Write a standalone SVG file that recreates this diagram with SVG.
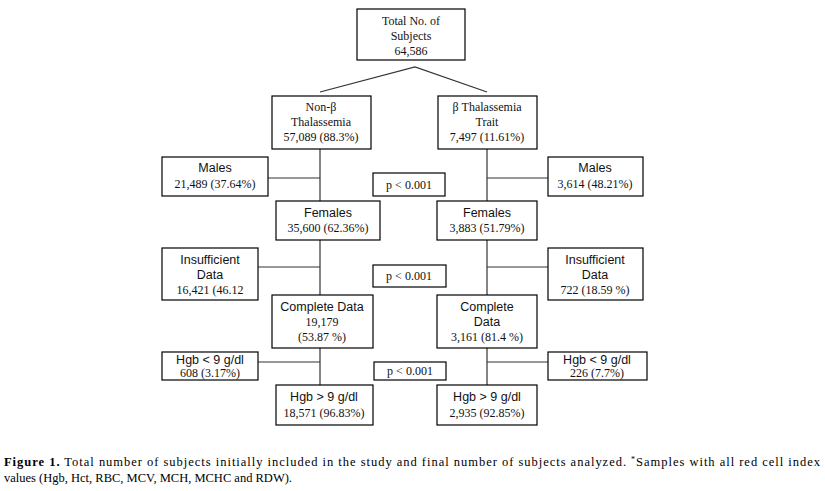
<svg xmlns="http://www.w3.org/2000/svg" width="825" height="491" viewBox="0 0 825 491">
<style>
rect{fill:#fff;stroke:#000;stroke-width:1.2}
.c line,.c polyline{stroke:#333;stroke-width:1.2;fill:none}
.s{font-family:'Liberation Serif','Times New Roman',Times,serif;font-size:12px;text-anchor:middle;fill:#111}
.a{font-family:'Liberation Sans',Arial,sans-serif;font-size:12.5px;text-anchor:middle;fill:#111}
.cap{font-family:'Liberation Serif','Times New Roman',Times,serif;font-size:12.5px;fill:#000}
</style>
<rect x="0" y="0" width="825" height="491" style="stroke:none"/>
<g class="c">
<polyline points="320,92 415,67 487,92"/>
<line x1="320" y1="149" x2="320" y2="201"/>
<line x1="258" y1="178" x2="320" y2="178"/>
<line x1="487" y1="149" x2="487" y2="201"/>
<line x1="487" y1="178" x2="548" y2="178"/>
<line x1="320" y1="240" x2="320" y2="295"/>
<line x1="258" y1="267" x2="320" y2="267"/>
<line x1="487" y1="240" x2="487" y2="295"/>
<line x1="487" y1="267" x2="548" y2="267"/>
<line x1="320" y1="348" x2="320" y2="385"/>
<line x1="258" y1="362" x2="320" y2="362"/>
<line x1="487" y1="348" x2="487" y2="385"/>
<line x1="487" y1="362" x2="548" y2="362"/>
</g>
<g id="total"><rect x="357" y="9" width="108" height="51"/><text class="s" x="411" y="25">Total No. of</text><text class="s" x="411" y="40">Subjects</text><text class="s" x="411" y="55">64,586</text></g>
<g id="nonbeta"><rect x="272" y="96" width="99" height="53"/><text class="s" x="321" y="111">Non-β</text><text class="s" x="321" y="126">Thalassemia</text><text class="s" x="321" y="141">57,089 (88.3%)</text></g>
<g id="beta"><rect x="438" y="96" width="99" height="53"/><text class="s" x="487" y="111">β Thalassemia</text><text class="s" x="487" y="126">Trait</text><text class="s" x="487" y="141">7,497 (11.61%)</text></g>
<g id="malesL"><rect x="162" y="157" width="106" height="39"/><text class="a" x="215" y="172">Males</text><text class="s" x="215" y="188">21,489 (37.64%)</text></g>
<g id="p1"><rect x="373" y="173" width="72" height="23"/><text class="s" x="409" y="189">p &lt; 0.001</text></g>
<g id="malesR"><rect x="548" y="157" width="95" height="39"/><text class="a" x="595" y="172">Males</text><text class="s" x="595" y="188">3,614 (48.21%)</text></g>
<g id="femalesL"><rect x="276" y="201" width="104" height="39"/><text class="a" x="328" y="217">Females</text><text class="s" x="328" y="232">35,600 (62.36%)</text></g>
<g id="femalesR"><rect x="437" y="201" width="100" height="39"/><text class="a" x="487" y="217">Females</text><text class="s" x="487" y="232">3,883 (51.79%)</text></g>
<g id="insufL"><rect x="162" y="248" width="96" height="52"/><text class="a" x="210" y="264">Insufficient</text><text class="a" x="210" y="279">Data</text><text class="s" x="210" y="294">16,421 (46.12</text></g>
<g id="p2"><rect x="373" y="265" width="73" height="22"/><text class="s" x="409" y="280">p &lt; 0.001</text></g>
<g id="insufR"><rect x="548" y="248" width="95" height="52"/><text class="a" x="595" y="264">Insufficient</text><text class="a" x="595" y="279">Data</text><text class="s" x="595" y="294">722 (18.59 %)</text></g>
<g id="completeL"><rect x="272" y="295" width="101" height="53"/><text class="a" x="322" y="311">Complete Data</text><text class="s" x="322" y="326">19,179</text><text class="s" x="322" y="341">(53.87 %)</text></g>
<g id="completeR"><rect x="437" y="295" width="100" height="53"/><text class="a" x="487" y="311">Complete</text><text class="a" x="487" y="326">Data</text><text class="s" x="487" y="341">3,161 (81.4 %)</text></g>
<g id="lowL"><rect x="162" y="352" width="96" height="28"/><text class="a" x="210" y="364">Hgb &lt; 9 g/dl</text><text class="s" x="210" y="377">608 (3.17%)</text></g>
<g id="p3"><rect x="374" y="362" width="72" height="18"/><text class="s" x="410" y="375">p &lt; 0.001</text></g>
<g id="lowR"><rect x="548" y="352" width="99" height="28"/><text class="a" x="597" y="364">Hgb &lt; 9 g/dl</text><text class="s" x="597" y="377">226 (7.7%)</text></g>
<g id="highL"><rect x="276" y="385" width="97" height="40"/><text class="a" x="324" y="401">Hgb &gt; 9 g/dl</text><text class="s" x="324" y="417">18,571 (96.83%)</text></g>
<g id="highR"><rect x="437" y="385" width="100" height="40"/><text class="a" x="487" y="401">Hgb &gt; 9 g/dl</text><text class="s" x="487" y="417">2,935 (92.85%)</text></g>
<text class="cap" x="4" y="466" textLength="816" lengthAdjust="spacing"><tspan font-weight="bold">Figure 1.</tspan> Total number of subjects initially included in the study and final number of subjects analyzed. <tspan font-size="8" dy="-4">*</tspan><tspan dy="4">Samples with all red cell index</tspan></text>
<text class="cap" x="4" y="482">values (Hgb, Hct, RBC, MCV, MCH, MCHC and RDW).</text>
</svg>
